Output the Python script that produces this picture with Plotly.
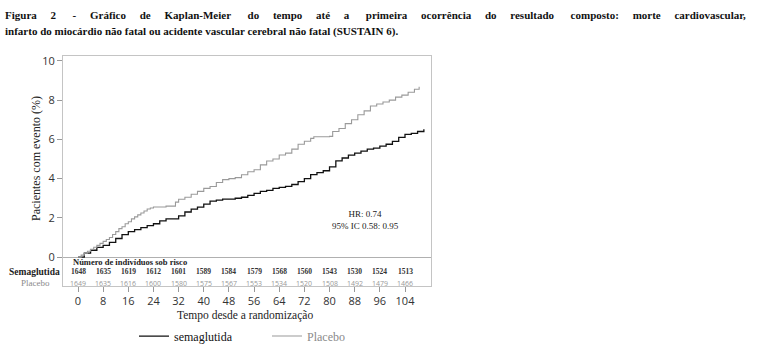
import plotly.graph_objects as go

# ---- data ----
placebo_weeks = [0, 1, 2, 3, 4, 5, 6, 7, 8, 9, 10, 11, 12, 13, 14, 15, 16, 17, 18, 19, 20, 21, 22, 23, 24, 28, 30, 31, 32, 34, 36, 38, 40, 42, 44, 46, 48, 50, 52, 54, 56, 58, 60, 62, 64, 66, 68, 70, 72, 74, 75, 80, 81, 83, 85, 87, 89, 91, 93, 95, 97, 99, 101, 103, 105, 107, 108.5]
placebo_pct = [0, 0.1, 0.2, 0.3, 0.4, 0.5, 0.6, 0.7, 0.8, 0.9, 1.0, 1.15, 1.3, 1.45, 1.55, 1.7, 1.8, 1.95, 2.05, 2.15, 2.25, 2.35, 2.45, 2.5, 2.55, 2.6, 2.6, 2.8, 2.95, 3.05, 3.2, 3.35, 3.5, 3.6, 3.8, 3.95, 4.0, 4.05, 4.2, 4.35, 4.45, 4.7, 4.9, 5.0, 5.2, 5.3, 5.5, 5.75, 5.9, 6.05, 6.13, 6.15, 6.4, 6.55, 6.8, 7.0, 7.25, 7.45, 7.7, 7.8, 7.9, 8.0, 8.15, 8.25, 8.4, 8.55, 8.68]

sema_weeks = [0, 2, 4, 6, 8, 10, 12, 14, 16, 18, 20, 22, 24, 26, 28, 31, 32, 34, 36, 38, 40, 42, 44, 46, 50, 52, 54, 56, 58, 60, 62, 64, 66, 68, 70, 72, 74, 76, 78, 80, 82, 84, 86, 88, 90, 92, 94, 96, 98, 100, 102, 104, 106, 108, 110]
sema_pct = [0, 0.2, 0.35, 0.5, 0.6, 0.75, 0.95, 1.15, 1.3, 1.4, 1.5, 1.6, 1.7, 1.85, 1.95, 1.95, 2.1, 2.3, 2.45, 2.55, 2.7, 2.85, 2.9, 2.95, 3.0, 3.05, 3.15, 3.25, 3.35, 3.4, 3.5, 3.55, 3.6, 3.7, 3.85, 4.0, 4.2, 4.3, 4.4, 4.6, 4.9, 5.05, 5.2, 5.3, 5.4, 5.5, 5.55, 5.65, 5.75, 5.9, 6.1, 6.25, 6.3, 6.4, 6.52]

risk_weeks = [0, 8, 16, 24, 32, 40, 48, 56, 64, 72, 80, 88, 96, 104]
risk_sema = [1648, 1635, 1619, 1612, 1601, 1589, 1584, 1579, 1568, 1560, 1543, 1530, 1524, 1513]
risk_placebo = [1649, 1635, 1616, 1600, 1580, 1575, 1567, 1553, 1534, 1520, 1508, 1492, 1479, 1466]

y_ticks = [0, 2, 4, 6, 8, 10]

title_line1 = "Figura 2 - Gráfico de Kaplan-Meier do tempo até a primeira ocorrência do resultado composto: morte cardiovascular,"
title_line2 = "infarto do miocárdio não fatal ou acidente vascular cerebral não fatal (SUSTAIN 6)."

SERIF = "Liberation Serif, Times New Roman, serif"
SANS = "Open Sans, sans-serif"

# plot-area geometry (pixels)
L, R, T, B = 63, 431, 56, 295
W, H = 760, 363
PW, PH = R - L, B - T


def px(x):
    return (x - L) / PW


def py(y):
    return (B - y) / PH


# justified first title line: widen the word gaps with non-breaking spaces
_words = title_line1.split(" ")
title_line1_just = _words[0]
for i, wd in enumerate(_words[1:]):
    title_line1_just += "\u00a0" * (6 if i % 4 == 1 else 5) + wd

fig = go.Figure()
fig.add_trace(go.Scatter(x=sema_weeks, y=sema_pct, mode="lines", line_shape="hv",
                         line=dict(color="#111111", width=1.3), name="semaglutida"))
fig.add_trace(go.Scatter(x=placebo_weeks, y=placebo_pct, mode="lines", line_shape="hv",
                         line=dict(color="#9a9a9a", width=1.1),
                         name='<span style="color:#8a8a8a">Placebo</span>'))

ann = []
ann.append(dict(text="<b>" + title_line1_just + "</b>", xref="paper", yref="paper", x=px(3), y=py(13),
                xanchor="left", yanchor="middle", showarrow=False,
                font=dict(family=SERIF, size=11, color="#111")))
ann.append(dict(text="<b>" + title_line2 + "</b>", xref="paper", yref="paper", x=px(3), y=py(31),
                xanchor="left", yanchor="middle", showarrow=False,
                font=dict(family=SERIF, size=11, color="#111")))
ann.append(dict(text="Pacientes com evento (%)", xref="paper", yref="paper", x=px(36), y=py(163),
                textangle=-90, xanchor="center", yanchor="middle", showarrow=False,
                font=dict(family=SERIF, size=12, color="#222")))
ann.append(dict(text="Tempo desde a randomização", xref="paper", yref="paper", x=px(245), y=py(326),
                xanchor="center", yanchor="middle", showarrow=False,
                font=dict(family=SERIF, size=11.5, color="#222")))
ann.append(dict(text="HR: 0.74<br>95% IC 0.58: 0.95", xref="x", yref="y", x=91.3, y=1.9,
                xanchor="center", yanchor="middle", showarrow=False, align="center",
                font=dict(family=SERIF, size=9, color="#222")))
# risk table
ann.append(dict(text="<b>Número de indivíduos sob risco</b>", xref="paper", yref="paper", x=px(71), y=py(270),
                xanchor="left", yanchor="middle", showarrow=False,
                font=dict(family=SERIF, size=8.5, color="#222")))
ann.append(dict(text="<b>Semaglutida</b>", xref="paper", yref="paper", x=px(62), y=py(280),
                xanchor="right", yanchor="middle", showarrow=False,
                font=dict(family=SERIF, size=9.5, color="#222")))
ann.append(dict(text="Placebo", xref="paper", yref="paper", x=px(52), y=py(292),
                xanchor="right", yanchor="middle", showarrow=False,
                font=dict(family=SERIF, size=9, color="#8a8a8a")))
for w, s, p in zip(risk_weeks, risk_sema, risk_placebo):
    ann.append(dict(text="<b>%d</b>" % s, xref="x", yref="paper", x=w, y=py(280),
                    xanchor="center", yanchor="middle", showarrow=False,
                    font=dict(family=SERIF, size=7.5, color="#333")))
    ann.append(dict(text="%d" % p, xref="x", yref="paper", x=w, y=py(292),
                    xanchor="center", yanchor="middle", showarrow=False,
                    font=dict(family=SANS, size=7, color="#999")))

# x range from pixel geometry: 0 at 78 px, 104 at 405 px
ppw = (405 - 78) / 104
x0 = (L - 78) / ppw
x1 = (R - 78) / ppw
# y range: 0 at 265 px, 10 at 61 px
ppu = (265 - 61) / 10
y0 = -(B - 265) / ppu
y1 = (265 - T) / ppu

fig.update_layout(
    width=W, height=H,
    margin=dict(l=L, r=W - R, t=T, b=H - B, pad=0),
    paper_bgcolor="white", plot_bgcolor="white",
    annotations=ann,
    showlegend=True,
    legend=dict(orientation="h", x=px(134), y=py(347), xanchor="left", yanchor="middle",
                font=dict(family=SERIF, size=12, color="#111"),
                entrywidth=88, entrywidthmode="pixels", itemwidth=30,
                bgcolor="rgba(0,0,0,0)", tracegroupgap=0),
    xaxis=dict(range=[x0, x1], tickvals=risk_weeks, ticks="outside", ticklen=5,
               tickcolor="#999", tickwidth=1, showgrid=False, zeroline=False,
               showline=True, linecolor="#c4c4c4", linewidth=1, mirror=True,
               tickfont=dict(family=SANS, size=11, color="#333")),
    yaxis=dict(range=[y0, y1], tickvals=y_ticks, ticks="outside", ticklen=5,
               tickcolor="#999", tickwidth=1, showgrid=False,
               zeroline=True, zerolinecolor="#b0b0b0", zerolinewidth=1,
               showline=True, linecolor="#c4c4c4", linewidth=1, mirror=True,
               tickfont=dict(family=SANS, size=11, color="#333")),
)

fig.write_html("out.html")
